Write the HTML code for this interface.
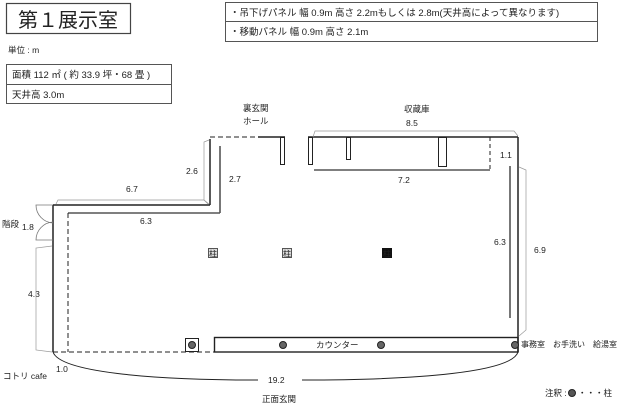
<!DOCTYPE html>
<html><head><meta charset="utf-8"><style>
body{margin:0;background:#fff}
svg{display:block}
text{font-family:"Liberation Sans","Noto Sans CJK JP",sans-serif;fill:#222}
</style></head><body>
<svg width="620" height="404" viewBox="0 0 620 404" xmlns="http://www.w3.org/2000/svg">
<rect x="6.5" y="3.5" width="124" height="30" fill="none" stroke="#444" stroke-width="1.2"/>
<text x="68" y="27" font-size="20" text-anchor="middle" fill="#111">第１展示室</text>
<rect x="225.5" y="2.5" width="372" height="39" fill="none" stroke="#555"/>
<line x1="225" y1="21.5" x2="597" y2="21.5" stroke="#555"/>
<text x="230" y="16" font-size="9.5">・吊下げパネル  幅 0.9m  高さ 2.2mもしくは 2.8m(天井高によって異なります)</text>
<text x="230" y="35" font-size="9.5">・移動パネル     幅 0.9m  高さ 2.1m</text>
<text x="8" y="53" font-size="8.5">単位 : m</text>
<rect x="6.5" y="64.5" width="165" height="39" fill="none" stroke="#555"/>
<line x1="6" y1="84.5" x2="171" y2="84.5" stroke="#555"/>
<text x="12" y="78" font-size="9.5">面積   112 ㎡ ( 約 33.9 坪・68 畳 )</text>
<text x="12" y="98" font-size="9.5">天井高   3.0m</text>

<g font-size="8.5">
<text x="243" y="111">裏玄関</text><text x="243" y="124">ホール</text>
<text x="404" y="112">収蔵庫</text><text x="406" y="126">8.5</text>
<text x="500" y="158">1.1</text><text x="398" y="183">7.2</text>
<text x="186" y="174">2.6</text><text x="229" y="182">2.7</text>
<text x="126" y="192">6.7</text><text x="140" y="224">6.3</text>
<text x="2" y="227">階段</text><text x="22" y="230">1.8</text>
<text x="28" y="297">4.3</text>
<text x="494" y="245">6.3</text><text x="534" y="253">6.9</text>
<text x="316" y="348">カウンター</text>
<text x="521" y="347" font-size="8">事務室　お手洗い　給湯室</text>
<text x="56" y="372">1.0</text><text x="3" y="379">コトリ cafe</text>
<text x="268" y="383">19.2</text>
<text x="262" y="402">正面玄関</text>
<text x="545" y="396">注釈 :</text><text x="578" y="396">・・・柱</text>
</g>
<circle cx="572" cy="393" r="3.5" fill="#555" stroke="#222"/>

<g fill="none" stroke="#222">
<line x1="210" y1="137" x2="258" y2="137" stroke-dasharray="5,3"/>
<line x1="258" y1="137" x2="285" y2="137" stroke-width="1.5"/>
<line x1="308" y1="137" x2="518" y2="137" stroke-width="1.5"/>
<rect x="280.5" y="137.5" width="4" height="27"/>
<rect x="308.5" y="137.5" width="4" height="27"/>
<rect x="346.5" y="137.5" width="4" height="22"/>
<rect x="438.5" y="137.5" width="8" height="29"/>
<line x1="490" y1="137" x2="490" y2="170" stroke-dasharray="4,3"/>
<line x1="314" y1="170" x2="490" y2="170" stroke-width="1.6" stroke="#555"/>
<path d="M313 137 L315 131 L514 131 L518 136" stroke="#999" stroke-width="0.7"/>
<line x1="210" y1="139" x2="210" y2="205" stroke-width="1.5"/>
<line x1="220" y1="146" x2="220" y2="213" stroke-width="1.6" stroke="#555"/>
<path d="M209 140 L204 142 L204 200 L209 204" stroke="#999" stroke-width="0.7"/>
<line x1="53" y1="205" x2="210" y2="205" stroke-width="1.5"/>
<line x1="68" y1="213" x2="220" y2="213" stroke-width="1.6" stroke="#555"/>
<path d="M56 204 L58 200 L204 200 L208 204" stroke="#999" stroke-width="0.7"/>
<line x1="53" y1="205" x2="53" y2="352" stroke-width="1.5"/>
<path d="M53 205 L36 205 A18 18 0 0 0 53 223 M53 240 L36 240 A18 18 0 0 1 53 222" stroke="#777" stroke-width="0.8"/>
<path d="M52 246 L36 248 L36 350 L52 352" stroke="#999" stroke-width="0.7"/>
<line x1="68" y1="213" x2="68" y2="352" stroke-dasharray="5,3"/>
<line x1="53" y1="352" x2="214" y2="352" stroke-dasharray="5,3"/>
<line x1="518" y1="137" x2="518" y2="352" stroke-width="1.5"/>
<line x1="510" y1="166" x2="510" y2="318" stroke-width="2" stroke="#777"/>
<path d="M519 167 L526 170 L526 330 L519 336" stroke="#999" stroke-width="0.7"/>
<rect x="214.5" y="337.5" width="303.5" height="14.5" stroke-width="1.4"/>
<rect x="185.5" y="338.5" width="13" height="13"/>
<path d="M53 352 C60 372 150 380 258 380 M302 380 C420 380 512 372 518 352" stroke-width="1"/>
</g>
<g fill="#666" stroke="#222">
<circle cx="192" cy="345" r="3.5"/><circle cx="283" cy="345" r="3.5"/>
<circle cx="381" cy="345" r="3.5"/><circle cx="515" cy="345" r="3.5"/>
</g>
<g font-size="8">
<rect x="208.5" y="248.5" width="9" height="9" fill="#ddd" stroke="#555"/><text x="209" y="256.5">柱</text>
<rect x="282.5" y="248.5" width="9" height="9" fill="#ddd" stroke="#555"/><text x="283" y="256.5">柱</text>
<rect x="382.5" y="248.5" width="9" height="9" fill="#111" stroke="#111"/><text x="383" y="256.5" fill="#fff">柱</text>
</g>
</svg>
</body></html>
